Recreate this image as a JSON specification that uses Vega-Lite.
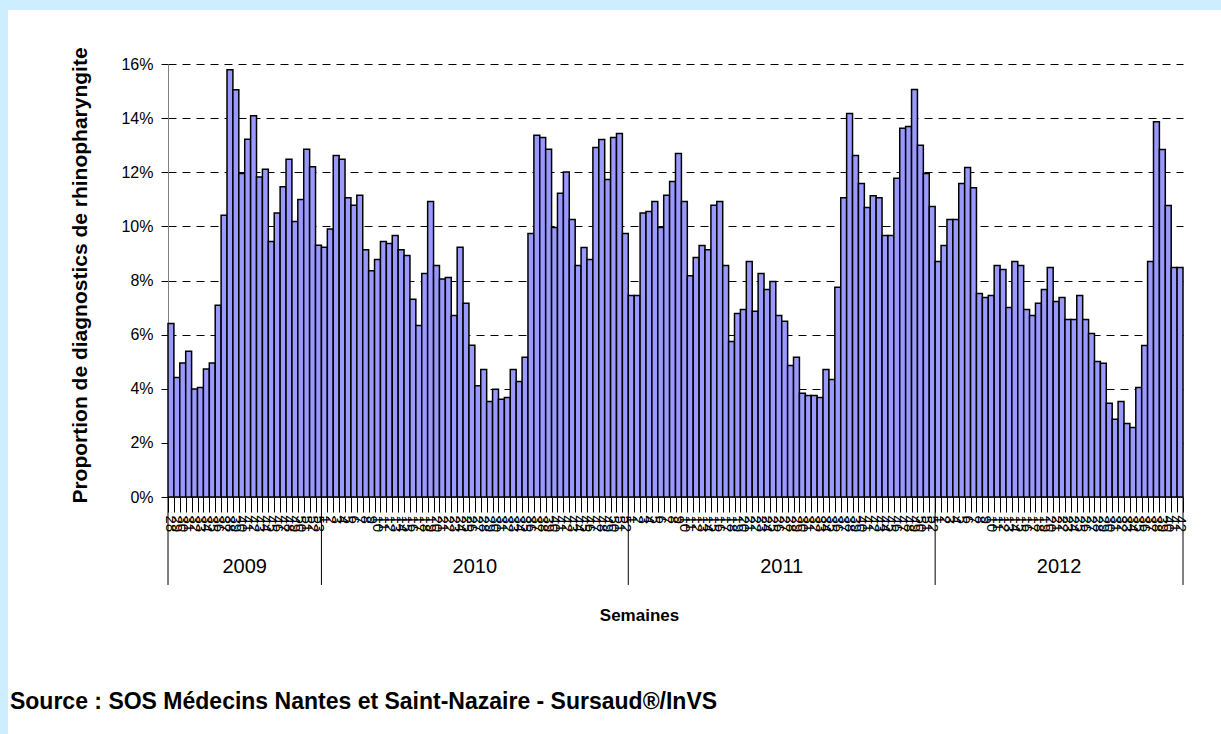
{
  "$schema": "https://vega.github.io/schema/vega-lite/v6.json",
  "width": 1015,
  "height": 433,
  "autosize": {"type": "none"},
  "padding": {"left": 168, "top": 64, "right": 38, "bottom": 237},
  "background": "#ffffff",
  "config": {"font": "Liberation Sans", "view": {"stroke": null}},
  "data": {
    "values": [
      {"year": 2009, "week": 28, "value": 0.0641}, {"year": 2009, "week": 29, "value": 0.0442}, {"year": 2009, "week": 30, "value": 0.0495}, {"year": 2009, "week": 31, "value": 0.0539}, {"year": 2009, "week": 32, "value": 0.0399}, {"year": 2009, "week": 33, "value": 0.0405}, {"year": 2009, "week": 34, "value": 0.0473}, {"year": 2009, "week": 35, "value": 0.0495}, {"year": 2009, "week": 36, "value": 0.0709}, {"year": 2009, "week": 37, "value": 0.1041}, {"year": 2009, "week": 38, "value": 0.1579}, {"year": 2009, "week": 39, "value": 0.1505}, {"year": 2009, "week": 40, "value": 0.1195}, {"year": 2009, "week": 41, "value": 0.1322}, {"year": 2009, "week": 42, "value": 0.1409}, {"year": 2009, "week": 43, "value": 0.1182}, {"year": 2009, "week": 44, "value": 0.1211}, {"year": 2009, "week": 45, "value": 0.0944}, {"year": 2009, "week": 46, "value": 0.1049}, {"year": 2009, "week": 47, "value": 0.1146}, {"year": 2009, "week": 48, "value": 0.1248}, {"year": 2009, "week": 49, "value": 0.1018}, {"year": 2009, "week": 50, "value": 0.1099}, {"year": 2009, "week": 51, "value": 0.1285}, {"year": 2009, "week": 52, "value": 0.1220}, {"year": 2009, "week": 53, "value": 0.0930},
      {"year": 2010, "week": 1, "value": 0.0923}, {"year": 2010, "week": 2, "value": 0.0990}, {"year": 2010, "week": 3, "value": 0.1262}, {"year": 2010, "week": 4, "value": 0.1248}, {"year": 2010, "week": 5, "value": 0.1106}, {"year": 2010, "week": 6, "value": 0.1078}, {"year": 2010, "week": 7, "value": 0.1115}, {"year": 2010, "week": 8, "value": 0.0914}, {"year": 2010, "week": 9, "value": 0.0836}, {"year": 2010, "week": 10, "value": 0.0878}, {"year": 2010, "week": 11, "value": 0.0944}, {"year": 2010, "week": 12, "value": 0.0937}, {"year": 2010, "week": 13, "value": 0.0966}, {"year": 2010, "week": 14, "value": 0.0914}, {"year": 2010, "week": 15, "value": 0.0892}, {"year": 2010, "week": 16, "value": 0.0731}, {"year": 2010, "week": 17, "value": 0.0634}, {"year": 2010, "week": 18, "value": 0.0826}, {"year": 2010, "week": 19, "value": 0.1092}, {"year": 2010, "week": 20, "value": 0.0855}, {"year": 2010, "week": 21, "value": 0.0806}, {"year": 2010, "week": 22, "value": 0.0811}, {"year": 2010, "week": 23, "value": 0.0671}, {"year": 2010, "week": 24, "value": 0.0923}, {"year": 2010, "week": 25, "value": 0.0716}, {"year": 2010, "week": 26, "value": 0.0561}, {"year": 2010, "week": 27, "value": 0.0411}, {"year": 2010, "week": 28, "value": 0.0471}, {"year": 2010, "week": 29, "value": 0.0353}, {"year": 2010, "week": 30, "value": 0.0398}, {"year": 2010, "week": 31, "value": 0.0361}, {"year": 2010, "week": 32, "value": 0.0368}, {"year": 2010, "week": 33, "value": 0.0471}, {"year": 2010, "week": 34, "value": 0.0427}, {"year": 2010, "week": 35, "value": 0.0516}, {"year": 2010, "week": 36, "value": 0.0974}, {"year": 2010, "week": 37, "value": 0.1337}, {"year": 2010, "week": 38, "value": 0.1328}, {"year": 2010, "week": 39, "value": 0.1285}, {"year": 2010, "week": 40, "value": 0.0996}, {"year": 2010, "week": 41, "value": 0.1122}, {"year": 2010, "week": 42, "value": 0.1201}, {"year": 2010, "week": 43, "value": 0.1025}, {"year": 2010, "week": 44, "value": 0.0855}, {"year": 2010, "week": 45, "value": 0.0922}, {"year": 2010, "week": 46, "value": 0.0878}, {"year": 2010, "week": 47, "value": 0.1291}, {"year": 2010, "week": 48, "value": 0.1321}, {"year": 2010, "week": 49, "value": 0.1173}, {"year": 2010, "week": 50, "value": 0.1328}, {"year": 2010, "week": 51, "value": 0.1343}, {"year": 2010, "week": 52, "value": 0.0974},
      {"year": 2011, "week": 1, "value": 0.0745}, {"year": 2011, "week": 2, "value": 0.0745}, {"year": 2011, "week": 3, "value": 0.1049}, {"year": 2011, "week": 4, "value": 0.1055}, {"year": 2011, "week": 5, "value": 0.1092}, {"year": 2011, "week": 6, "value": 0.0996}, {"year": 2011, "week": 7, "value": 0.1115}, {"year": 2011, "week": 8, "value": 0.1166}, {"year": 2011, "week": 9, "value": 0.1269}, {"year": 2011, "week": 10, "value": 0.1092}, {"year": 2011, "week": 11, "value": 0.0818}, {"year": 2011, "week": 12, "value": 0.0885}, {"year": 2011, "week": 13, "value": 0.0929}, {"year": 2011, "week": 14, "value": 0.0914}, {"year": 2011, "week": 15, "value": 0.1078}, {"year": 2011, "week": 16, "value": 0.1092}, {"year": 2011, "week": 17, "value": 0.0855}, {"year": 2011, "week": 18, "value": 0.0575}, {"year": 2011, "week": 19, "value": 0.0678}, {"year": 2011, "week": 20, "value": 0.0693}, {"year": 2011, "week": 21, "value": 0.0870}, {"year": 2011, "week": 22, "value": 0.0686}, {"year": 2011, "week": 23, "value": 0.0826}, {"year": 2011, "week": 24, "value": 0.0767}, {"year": 2011, "week": 25, "value": 0.0796}, {"year": 2011, "week": 26, "value": 0.0671}, {"year": 2011, "week": 27, "value": 0.0649}, {"year": 2011, "week": 28, "value": 0.0486}, {"year": 2011, "week": 29, "value": 0.0516}, {"year": 2011, "week": 30, "value": 0.0383}, {"year": 2011, "week": 31, "value": 0.0375}, {"year": 2011, "week": 32, "value": 0.0375}, {"year": 2011, "week": 33, "value": 0.0368}, {"year": 2011, "week": 34, "value": 0.0471}, {"year": 2011, "week": 35, "value": 0.0434}, {"year": 2011, "week": 36, "value": 0.0775}, {"year": 2011, "week": 37, "value": 0.1106}, {"year": 2011, "week": 38, "value": 0.1417}, {"year": 2011, "week": 39, "value": 0.1262}, {"year": 2011, "week": 40, "value": 0.1158}, {"year": 2011, "week": 41, "value": 0.1070}, {"year": 2011, "week": 42, "value": 0.1113}, {"year": 2011, "week": 43, "value": 0.1106}, {"year": 2011, "week": 44, "value": 0.0966}, {"year": 2011, "week": 45, "value": 0.0966}, {"year": 2011, "week": 46, "value": 0.1178}, {"year": 2011, "week": 47, "value": 0.1363}, {"year": 2011, "week": 48, "value": 0.1369}, {"year": 2011, "week": 49, "value": 0.1506}, {"year": 2011, "week": 50, "value": 0.1300}, {"year": 2011, "week": 51, "value": 0.1195}, {"year": 2011, "week": 52, "value": 0.1073},
      {"year": 2012, "week": 1, "value": 0.0870}, {"year": 2012, "week": 2, "value": 0.0929}, {"year": 2012, "week": 3, "value": 0.1025}, {"year": 2012, "week": 4, "value": 0.1025}, {"year": 2012, "week": 5, "value": 0.1158}, {"year": 2012, "week": 6, "value": 0.1218}, {"year": 2012, "week": 7, "value": 0.1143}, {"year": 2012, "week": 8, "value": 0.0752}, {"year": 2012, "week": 9, "value": 0.0737}, {"year": 2012, "week": 10, "value": 0.0745}, {"year": 2012, "week": 11, "value": 0.0855}, {"year": 2012, "week": 12, "value": 0.0841}, {"year": 2012, "week": 13, "value": 0.0700}, {"year": 2012, "week": 14, "value": 0.0870}, {"year": 2012, "week": 15, "value": 0.0855}, {"year": 2012, "week": 16, "value": 0.0693}, {"year": 2012, "week": 17, "value": 0.0671}, {"year": 2012, "week": 18, "value": 0.0716}, {"year": 2012, "week": 19, "value": 0.0767}, {"year": 2012, "week": 20, "value": 0.0848}, {"year": 2012, "week": 21, "value": 0.0722}, {"year": 2012, "week": 22, "value": 0.0737}, {"year": 2012, "week": 23, "value": 0.0656}, {"year": 2012, "week": 24, "value": 0.0656}, {"year": 2012, "week": 25, "value": 0.0745}, {"year": 2012, "week": 26, "value": 0.0656}, {"year": 2012, "week": 27, "value": 0.0604}, {"year": 2012, "week": 28, "value": 0.0501}, {"year": 2012, "week": 29, "value": 0.0494}, {"year": 2012, "week": 30, "value": 0.0346}, {"year": 2012, "week": 31, "value": 0.0287}, {"year": 2012, "week": 32, "value": 0.0353}, {"year": 2012, "week": 33, "value": 0.0272}, {"year": 2012, "week": 34, "value": 0.0257}, {"year": 2012, "week": 35, "value": 0.0405}, {"year": 2012, "week": 36, "value": 0.0560}, {"year": 2012, "week": 37, "value": 0.0870}, {"year": 2012, "week": 38, "value": 0.1387}, {"year": 2012, "week": 39, "value": 0.1284}, {"year": 2012, "week": 40, "value": 0.1077}, {"year": 2012, "week": 41, "value": 0.0848}, {"year": 2012, "week": 42, "value": 0.0848}
    ]
  },
  "transform": [
    {"calculate": "datum.year + '-' + (datum.week < 10 ? '0' : '') + datum.week", "as": "key"},
    {"window": [{"op": "row_number", "as": "rn"}], "groupby": ["year"]},
    {"joinaggregate": [{"op": "count", "as": "n"}], "groupby": ["year"]},
    {"window": [{"op": "row_number", "as": "gi"}]},
    {"joinaggregate": [{"op": "count", "as": "gn"}]}
  ],
  "resolve": {"scale": {"x": "independent"}},
  "layer": [
    {
      "transform": [{"filter": "datum.gi == 1"}],
      "mark": {"type": "rect", "fill": "#cdeeff"},
      "encoding": {
        "x": {"datum": -0.17, "type": "quantitative", "scale": {"domain": [0, 1], "nice": false, "zero": false}, "axis": null},
        "x2": {"datum": 1.04},
        "y": {"datum": 0.19, "type": "quantitative"},
        "y2": {"datum": 0.18}
      }
    },
    {
      "transform": [{"filter": "datum.gi == 1"}],
      "mark": {"type": "rect", "fill": "#cdeeff"},
      "encoding": {
        "x": {"datum": -0.17, "type": "quantitative", "scale": {"domain": [0, 1], "nice": false, "zero": false}, "axis": null},
        "x2": {"datum": -0.1576},
        "y": {"datum": 0.19, "type": "quantitative"},
        "y2": {"datum": -0.095}
      }
    },
    {
      "mark": {"type": "bar", "fill": "#9999ff", "stroke": "#000000", "strokeWidth": 1.5},
      "encoding": {
        "x": {
          "field": "key",
          "type": "ordinal",
          "scale": {"type": "band", "paddingInner": 0, "paddingOuter": 0},
          "axis": {
            "labelExpr": "toNumber(split(datum.value, '-')[1])",
            "labelAngle": 90,
            "labelFontSize": 15,
            "labelFont": "Liberation Sans",
            "labelColor": "#000000",
            "labelOverlap": false,
            "labelPadding": 3,
            "tickBand": "extent",
            "tickSize": 15,
            "tickColor": "#000000",
            "domainColor": "#808080",
            "title": "Semaines",
            "titleFont": "Liberation Sans",
            "titleFontSize": 17,
            "titleFontWeight": "bold",
            "titleColor": "#000000",
            "titleX": 471,
            "titleY": 118,
            "titleAlign": "center",
            "titleBaseline": "middle"
          }
        },
        "y": {
          "field": "value",
          "type": "quantitative",
          "scale": {"domain": [0, 0.16], "nice": false},
          "axis": {
            "values": [0, 0.02, 0.04, 0.06, 0.08, 0.1, 0.12, 0.14, 0.16],
            "format": ".0%",
            "labelFontSize": 16,
            "labelFont": "Liberation Sans",
            "labelColor": "#000000",
            "labelPadding": 8,
            "tickSize": 7,
            "tickColor": "#000000",
            "domainColor": "#808080",
            "grid": true,
            "gridColor": "#000000",
            "gridDash": [8, 6],
            "gridWidth": 1,
            "title": "Proportion de diagnostics de rhinopharyngite",
            "titleFont": "Liberation Sans",
            "titleFontSize": 21,
            "titleFontWeight": "bold",
            "titleColor": "#000000",
            "titleX": -88,
            "titleY": 211,
            "titleAngle": -90,
            "titleAlign": "center",
            "titleBaseline": "middle"
          }
        }
      }
    },
    {
      "mark": {"type": "rule", "color": "#000000", "strokeWidth": 1},
      "encoding": {
        "x": {"field": "key", "type": "ordinal", "bandPosition": 0, "scale": {"type": "band", "paddingInner": 0, "paddingOuter": 0}, "axis": null},
        "y": {"datum": 0, "type": "quantitative"},
        "y2": {"datum": -0.0325},
        "strokeOpacity": {"condition": {"test": "datum.rn == 1", "value": 1}, "value": 0}
      }
    },
    {
      "mark": {"type": "rule", "color": "#000000", "strokeWidth": 1},
      "encoding": {
        "x": {"field": "key", "type": "ordinal", "bandPosition": 1, "scale": {"type": "band", "paddingInner": 0, "paddingOuter": 0}, "axis": null},
        "y": {"datum": 0, "type": "quantitative"},
        "y2": {"datum": -0.0325},
        "strokeOpacity": {"condition": {"test": "datum.gi == datum.gn", "value": 1}, "value": 0}
      }
    },
    {
      "mark": {"type": "text", "fontSize": 20, "font": "Liberation Sans", "color": "#000000", "baseline": "middle", "align": "center"},
      "encoding": {
        "x": {"field": "key", "type": "ordinal", "bandPosition": 0, "scale": {"type": "band", "paddingInner": 0, "paddingOuter": 0}, "axis": null},
        "y": {"datum": -0.0259, "type": "quantitative"},
        "text": {"condition": {"test": "datum.rn == floor(datum.n / 2) + 1", "field": "year"}, "value": ""}
      }
    },
    {
      "transform": [{"filter": "datum.gi == 1"}],
      "mark": {"type": "text", "fontSize": 23, "font": "Liberation Sans", "fontWeight": "bold", "color": "#000000", "baseline": "middle", "align": "left"},
      "encoding": {
        "x": {"datum": -0.1557, "type": "quantitative", "scale": {"domain": [0, 1], "nice": false, "zero": false}, "axis": null},
        "y": {"datum": -0.0757, "type": "quantitative"},
        "text": {"value": "Source : SOS Médecins Nantes et Saint-Nazaire - Sursaud®/InVS"}
      }
    }
  ]
}
